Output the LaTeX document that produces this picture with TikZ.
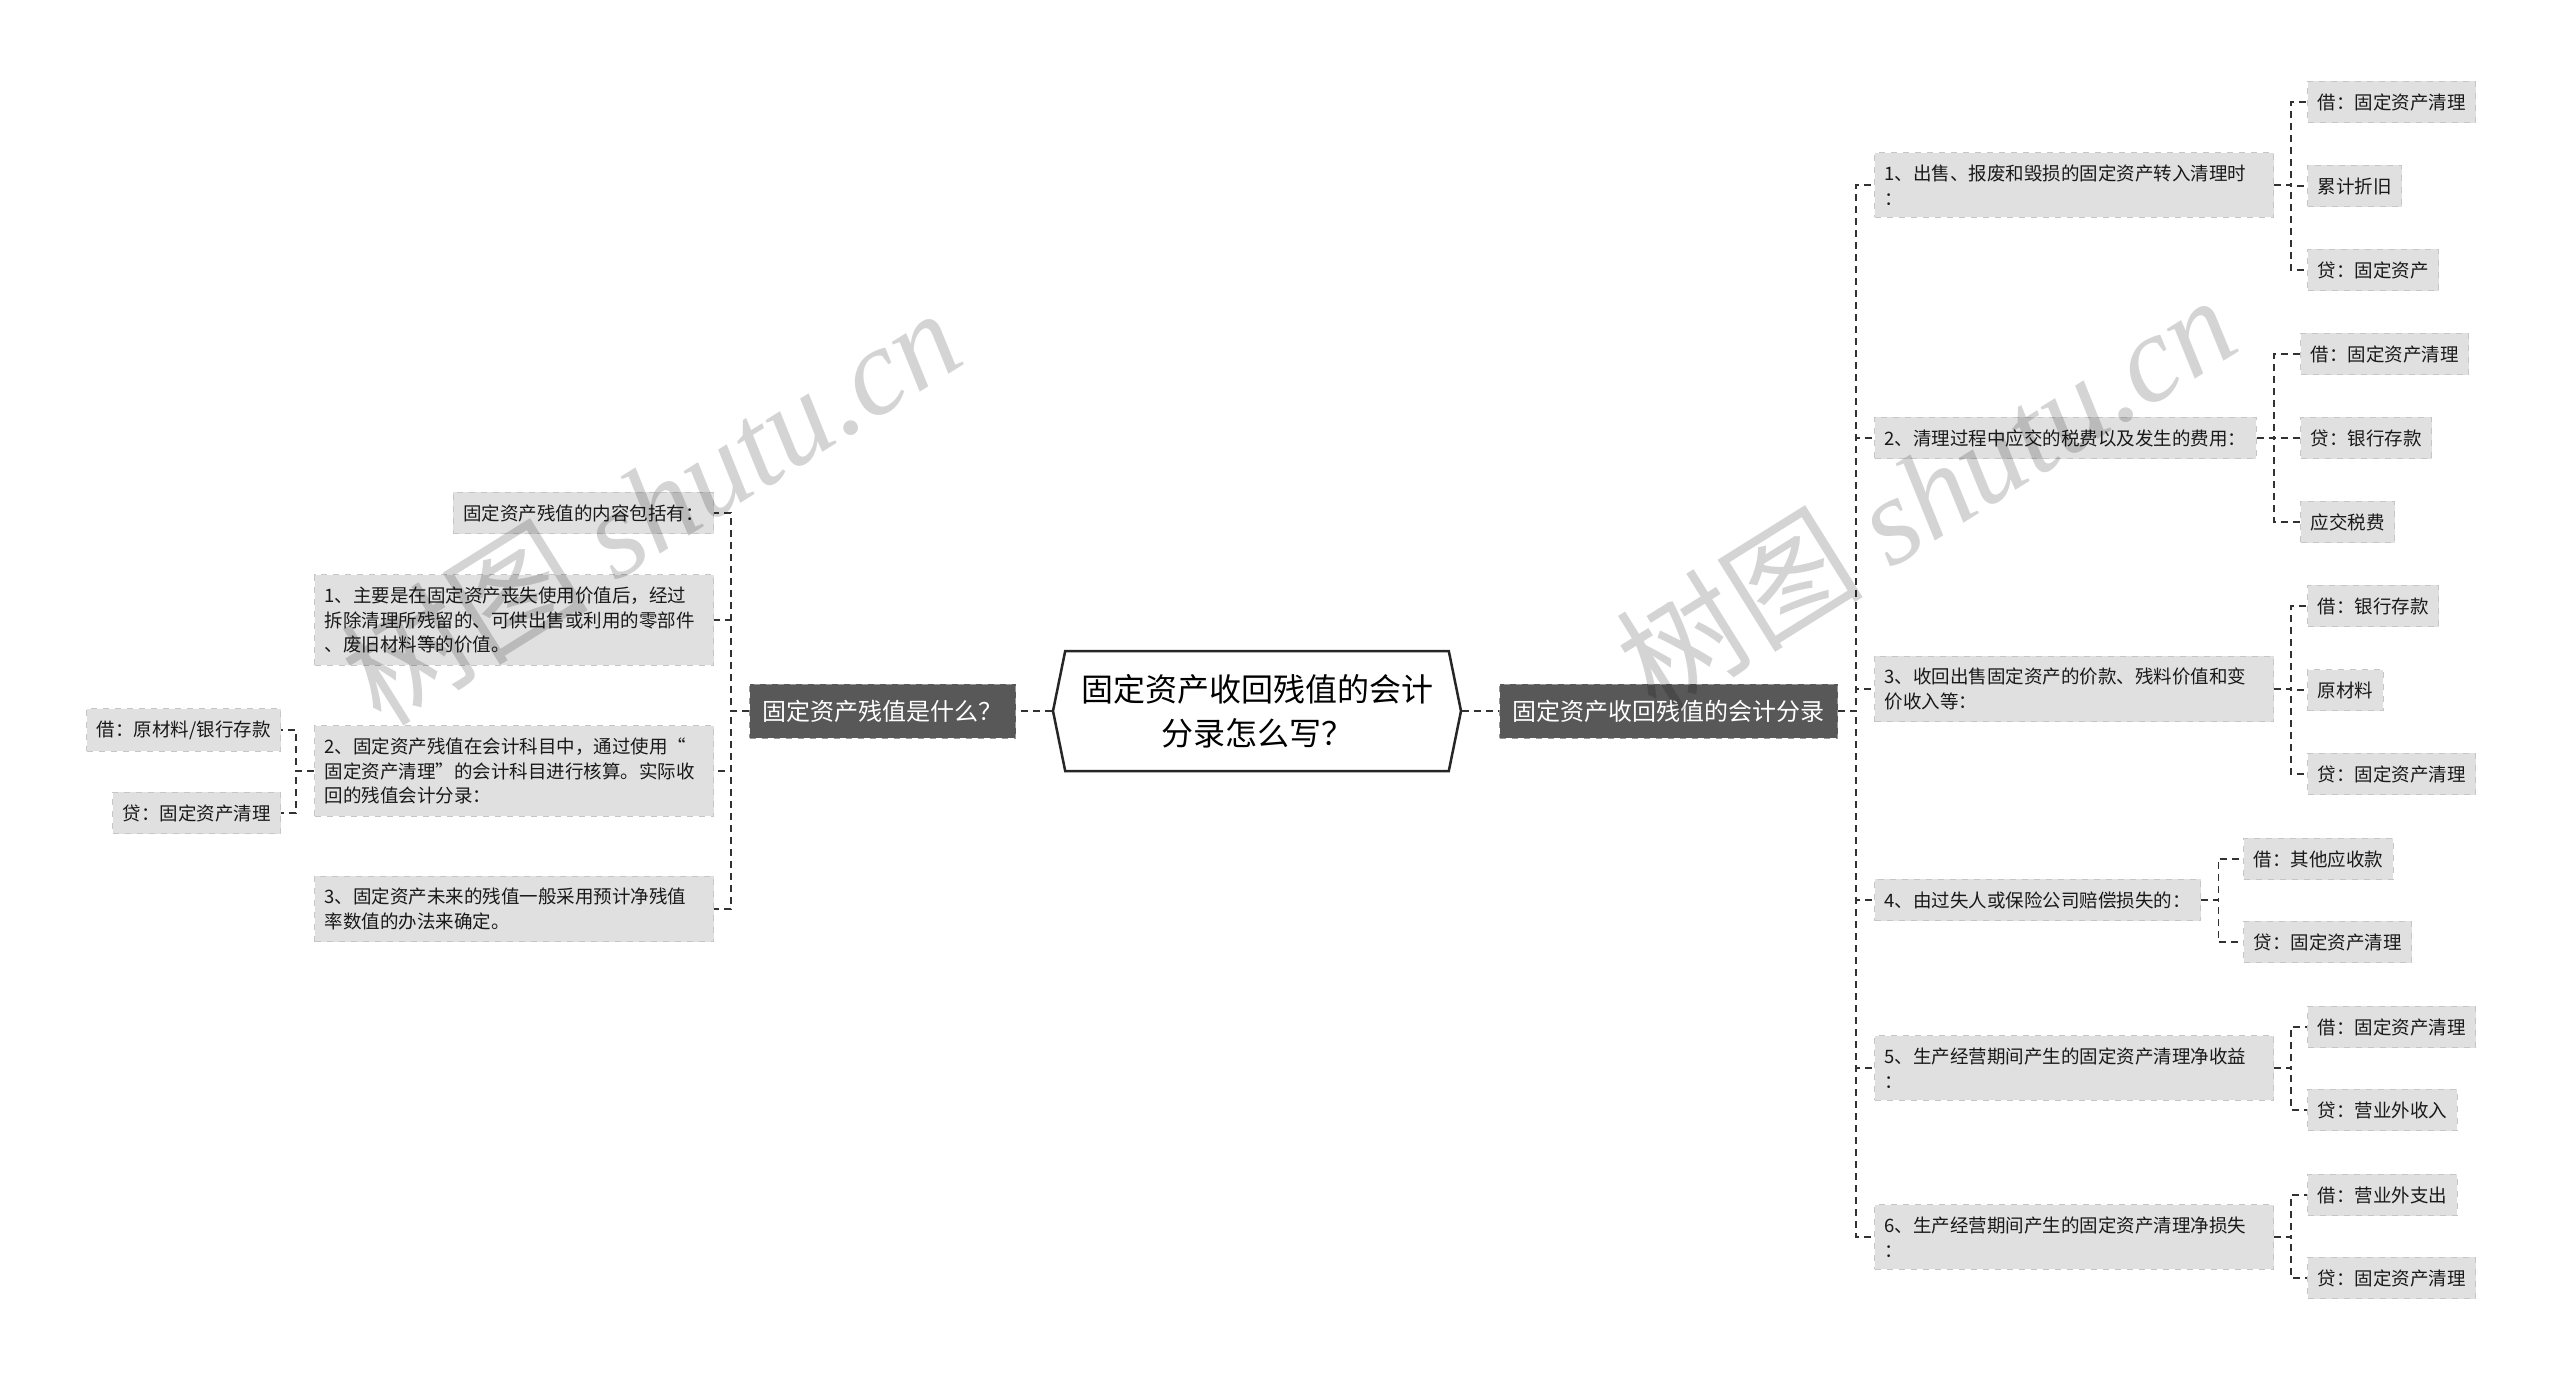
\documentclass[tikz,border=0pt]{standalone}
\usepackage{fontspec}
\setmainfont{Noto Sans CJK SC}
\newfontfamily\wmlatin{Liberation Serif}
\usetikzlibrary{shapes.symbols,positioning}
\definecolor{leafgray}{RGB}{224,224,224}
\definecolor{leafline}{RGB}{198,198,198}
\definecolor{topicgray}{RGB}{88,88,88}
\definecolor{topicline}{RGB}{150,150,150}
\definecolor{linkgray}{RGB}{50,50,50}
\tikzset{
	root/.style={
		signal, signal to=west and east, signal pointer angle=157,
		draw=black!85, line width=1.25pt, fill=white,
		minimum width=204pt, minimum height=60pt, align=center,
		font=\fontsize{16}{22}\selectfont},
	topic/.style={
		fill=topicgray, draw=topicline, dashed, line width=0.5pt,
		inner xsep=6.5pt, minimum height=27pt, text=white,
		font=\fontsize{12}{14}\selectfont},
	leaf/.style={
		fill=leafgray, draw=leafline, dashed, line width=0.5pt,
		inner xsep=5pt, inner ysep=6pt, minimum height=20.5pt,
		text=black!90, font=\fontsize{9.25}{12.25}\selectfont},
	para/.style={leaf, text width=189.5pt, align=left},
	link/.style={draw=linkgray, line width=0.75pt, dash pattern=on 3.5pt off 2.5pt},
	wmtext/.style={text=black, text opacity=0.17, rotate=32,
		font=\fontsize{62}{62}\selectfont}
}

\begin{document}
\begin{tikzpicture}[x=0.5pt,y=0.5pt,yscale=-1,xscale=1]
\path[use as bounding box, clip] (0,0) rectangle (2560,1381);

% centre and the two main topics
\node[root] (root) at (1257,711) {固定资产收回残值的会计\\分录怎么写？};
\node[topic, anchor=east] (lmain) at (1016,711) {固定资产残值是什么？};
\node[topic, anchor=west] (rmain) at (1499,711) {固定资产收回残值的会计分录};

% left branch
\node[leaf, anchor=east] (l0) at (714,513) {固定资产残值的内容包括有：};
\node[para, anchor=east] (l1) at (714,620) {1、主要是在固定资产丧失使用价值后，经过\\拆除清理所残留的、可供出售或利用的零部件\\、废旧材料等的价值。};
\node[para, anchor=east] (l2) at (714,771) {2、固定资产残值在会计科目中，通过使用“\\固定资产清理”的会计科目进行核算。实际收\\回的残值会计分录：};
\node[para, anchor=east] (l3) at (714,909) {3、固定资产未来的残值一般采用预计净残值\\率数值的办法来确定。};
\node[leaf, anchor=east] (l2a) at (281,730) {借：原材料/银行存款};
\node[leaf, anchor=east] (l2b) at (281,813) {贷：固定资产清理};

% right branch
\node[para, anchor=west] (r1) at (1874,185) {1、出售、报废和毁损的固定资产转入清理时\\：};
\node[leaf, anchor=west] (r1a) at (2307,102) {借：固定资产清理};
\node[leaf, anchor=west] (r1b) at (2307,186) {累计折旧};
\node[leaf, anchor=west] (r1c) at (2307,270) {贷：固定资产};

\node[leaf, anchor=west] (r2) at (1874,438) {2、清理过程中应交的税费以及发生的费用：};
\node[leaf, anchor=west] (r2a) at (2300,354) {借：固定资产清理};
\node[leaf, anchor=west] (r2b) at (2300,438) {贷：银行存款};
\node[leaf, anchor=west] (r2c) at (2300,522) {应交税费};

\node[para, anchor=west] (r3) at (1874,689) {3、收回出售固定资产的价款、残料价值和变\\价收入等：};
\node[leaf, anchor=west] (r3a) at (2307,606) {借：银行存款};
\node[leaf, anchor=west] (r3b) at (2307,690) {原材料};
\node[leaf, anchor=west] (r3c) at (2307,774) {贷：固定资产清理};

\node[leaf, anchor=west] (r4) at (1874,900) {4、由过失人或保险公司赔偿损失的：};
\node[leaf, anchor=west] (r4a) at (2243,859) {借：其他应收款};
\node[leaf, anchor=west] (r4b) at (2243,942) {贷：固定资产清理};

\node[para, anchor=west] (r5) at (1874,1068) {5、生产经营期间产生的固定资产清理净收益\\：};
\node[leaf, anchor=west] (r5a) at (2307,1027) {借：固定资产清理};
\node[leaf, anchor=west] (r5b) at (2307,1110) {贷：营业外收入};

\node[para, anchor=west] (r6) at (1874,1237) {6、生产经营期间产生的固定资产清理净损失\\：};
\node[leaf, anchor=west] (r6a) at (2307,1195) {借：营业外支出};
\node[leaf, anchor=west] (r6b) at (2307,1278) {贷：固定资产清理};

% connectors
\draw[link] (root.west) -- (lmain.east);
\draw[link] (root.east) -- (rmain.west);

\draw[link] (lmain.west) -- ++(-18,0) |- (l0.east);
\draw[link] (lmain.west) -- ++(-18,0) |- (l1.east);
\draw[link] (lmain.west) -- ++(-18,0) |- (l2.east);
\draw[link] (lmain.west) -- ++(-18,0) |- (l3.east);
\draw[link] (l2.west) -- ++(-18,0) |- (l2a.east);
\draw[link] (l2.west) -- ++(-18,0) |- (l2b.east);

\draw[link] (rmain.east) -- ++(18,0) |- (r1.west);
\draw[link] (rmain.east) -- ++(18,0) |- (r2.west);
\draw[link] (rmain.east) -- ++(18,0) |- (r3.west);
\draw[link] (rmain.east) -- ++(18,0) |- (r4.west);
\draw[link] (rmain.east) -- ++(18,0) |- (r5.west);
\draw[link] (rmain.east) -- ++(18,0) |- (r6.west);

\draw[link] (r1.east) -- ++(17,0) |- (r1a.west);
\draw[link] (r1.east) -- ++(17,0) |- (r1b.west);
\draw[link] (r1.east) -- ++(17,0) |- (r1c.west);
\draw[link] (r2.east) -- ++(17,0) |- (r2a.west);
\draw[link] (r2.east) -- ++(17,0) |- (r2b.west);
\draw[link] (r2.east) -- ++(17,0) |- (r2c.west);
\draw[link] (r3.east) -- ++(17,0) |- (r3a.west);
\draw[link] (r3.east) -- ++(17,0) |- (r3b.west);
\draw[link] (r3.east) -- ++(17,0) |- (r3c.west);
\draw[link] (r4.east) -- ++(17,0) |- (r4a.west);
\draw[link] (r4.east) -- ++(17,0) |- (r4b.west);
\draw[link] (r5.east) -- ++(17,0) |- (r5a.west);
\draw[link] (r5.east) -- ++(17,0) |- (r5b.west);
\draw[link] (r6.east) -- ++(17,0) |- (r6a.west);
\draw[link] (r6.east) -- ++(17,0) |- (r6b.west);

% watermark
\node[wmtext] (wm1) at (650,505) {树图 {\wmlatin\itshape shutu.cn}};
\node[wmtext] (wm2) at (1925,492) {树图 {\wmlatin\itshape shutu.cn}};
\end{tikzpicture}
\end{document}
